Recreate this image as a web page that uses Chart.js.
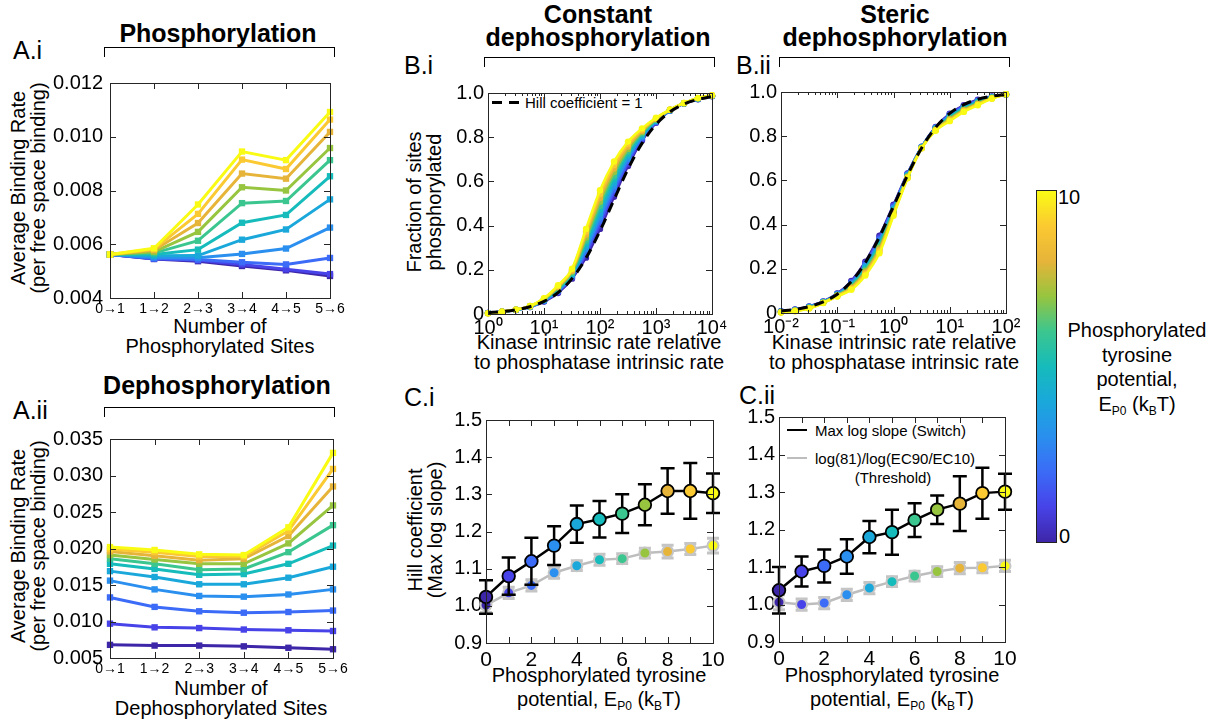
<!DOCTYPE html>
<html>
<head>
<meta charset="utf-8">
<script src="https://cdn.jsdelivr.net/npm/chart.js@4.4.1/dist/chart.umd.min.js"></script>
<style>
  body { margin: 0; width: 1221px; height: 723px; position: relative; overflow: hidden; background: #fff;
         font-family: "Liberation Sans", Arial, sans-serif; color: #000; }
  canvas { position: absolute; }
  .t { position: absolute; white-space: nowrap; font-size: 20px; line-height: 20px; text-align: center; transform: translate(-50%, -50%); }
  .l { text-align: left; transform: translate(0, -50%); }
  .rot { transform: translate(-50%, -50%) rotate(-90deg); }
  .head { font-weight: bold; font-size: 25px; line-height: 23px; }
  .panel { font-size: 25px; line-height: 25px; }
  .leg { font-size: 15px; line-height: 15px; }
  .sub { font-size: 12px; vertical-align: -4px; }
  .brk { position: absolute; height: 10px; border: 1.5px solid #000; border-bottom: none; box-sizing: border-box; }
  .cbar { position: absolute; left: 1036px; top: 190px; width: 21px; height: 353px; box-sizing: border-box; border: 1px solid #222; }
</style>
</head>
<body>

<!-- panel headers -->
<div class="t head" style="left:218px;top:33px">Phosphorylation</div>
<div class="brk" style="left:104px;top:47px;width:231px"></div>
<div class="t l panel" style="left:13px;top:50px">A.i</div>

<div class="t head" style="left:217px;top:385px">Dephosphorylation</div>
<div class="brk" style="left:104px;top:407px;width:231px"></div>
<div class="t l panel" style="left:13px;top:410px">A.ii</div>

<div class="t head" style="left:598px;top:26px">Constant<br>dephosphorylation</div>
<div class="brk" style="left:484px;top:57px;width:231px"></div>
<div class="t l panel" style="left:404px;top:65px">B.i</div>

<div class="t head" style="left:895px;top:26px">Steric<br>dephosphorylation</div>
<div class="brk" style="left:779px;top:57px;width:231px"></div>
<div class="t l panel" style="left:736px;top:65px">B.ii</div>

<div class="t l panel" style="left:404px;top:397px">C.i</div>
<div class="t l panel" style="left:739px;top:395px">C.ii</div>

<!-- axis titles -->
<div class="t rot" style="left:28px;top:188px">Average Binding Rate<br>(per free space binding)</div>
<div class="t" style="left:220px;top:336px;line-height:20px">Number of<br>Phosphorylated Sites</div>
<div class="t rot" style="left:28px;top:546px">Average Binding Rate<br>(per free space binding)</div>
<div class="t" style="left:221px;top:698px;line-height:20px">Number of<br>Dephosphorylated Sites</div>

<div class="t rot" style="left:424px;top:202px">Fraction of sites<br>phosphorylated</div>
<div class="t" style="left:599px;top:352px">Kinase intrinsic rate relative<br>to phosphatase intrinsic rate</div>
<div class="t" style="left:894px;top:352px">Kinase intrinsic rate relative<br>to phosphatase intrinsic rate</div>

<div class="t rot" style="left:425px;top:530px">Hill coefficient<br>(Max log slope)</div>
<div class="t" style="left:599px;top:690px;line-height:24px">Phosphorylated tyrosine<br>potential, E<span class="sub">P0</span> (k<span class="sub">B</span>T)</div>
<div class="t" style="left:892px;top:690px;line-height:24px">Phosphorylated tyrosine<br>potential, E<span class="sub">P0</span> (k<span class="sub">B</span>T)</div>

<!-- legends -->
<div style="position:absolute;left:492px;top:101px;width:29px;height:3px;background:repeating-linear-gradient(to right,#000 0 10px,transparent 10px 17px)"></div>
<div class="t l leg" style="left:525px;top:102px">Hill coefficient = 1</div>

<div style="position:absolute;left:787px;top:429px;width:20px;height:2px;background:#000"></div>
<div class="t l leg" style="left:815px;top:430px">Max log slope (Switch)</div>
<div style="position:absolute;left:787px;top:457px;width:20px;height:2px;background:#bdbdbd"></div>
<div class="t l leg" style="left:815px;top:458px">log(81)/log(EC90/EC10)</div>
<div class="t leg" style="left:893px;top:477px">(Threshold)</div>

<!-- colour bar -->
<div class="cbar" id="cbar"></div>
<div class="t l" style="left:1058px;top:197px">10</div>
<div class="t l" style="left:1059px;top:536px">0</div>
<div class="t" style="left:1137px;top:370px;line-height:24.5px">Phosphorylated<br>tyrosine<br>potential,<br>E<span class="sub">P0</span> (k<span class="sub">B</span>T)</div>

<script>
// colours for E_P0 = 0..10 (parula)
const PARULA = ['#3e26a8', '#4743e8', '#3b6bf7', '#2a8fee', '#1aa8db', '#16bbbb',
                '#3cc68f', '#97c53f', '#e6b439', '#fbc931', '#f9fb15'];
const POTENTIAL = [0, 1, 2, 3, 4, 5, 6, 7, 8, 9, 10];

// A.i / A.ii : average binding rate, one row per E_P0 (0..10)
const SITE_STEPS = ['0→1', '1→2', '2→3', '3→4', '4→5', '5→6'];
const phosBindingRate = [
    [0.00562, 0.00545, 0.00537, 0.00519, 0.00503, 0.00482],
    [0.00562, 0.00546, 0.00540, 0.00525, 0.00507, 0.00489],
    [0.00562, 0.00547, 0.00543, 0.00533, 0.00525, 0.00549],
    [0.00562, 0.00551, 0.00550, 0.00564, 0.00584, 0.00662],
    [0.00562, 0.00557, 0.00558, 0.00617, 0.00655, 0.00767],
    [0.00562, 0.00562, 0.00580, 0.00680, 0.00709, 0.00853],
    [0.00562, 0.00567, 0.00613, 0.00753, 0.00761, 0.00913],
    [0.00562, 0.00572, 0.00646, 0.00812, 0.00800, 0.00958],
    [0.00562, 0.00578, 0.00679, 0.00863, 0.00844, 0.01018],
    [0.00562, 0.00582, 0.00713, 0.00915, 0.00880, 0.01064],
    [0.00562, 0.00585, 0.00748, 0.00945, 0.00913, 0.01092]
];
const dephosBindingRate = [
    [0.0068, 0.0067, 0.0067, 0.0066, 0.0064, 0.0062],
    [0.0097, 0.0092, 0.0091, 0.0089, 0.0088, 0.0087],
    [0.0133, 0.0120, 0.0114, 0.0112, 0.0113, 0.0115],
    [0.0156, 0.0144, 0.0135, 0.0134, 0.0137, 0.0144],
    [0.0169, 0.0161, 0.0151, 0.0151, 0.0160, 0.0175],
    [0.0179, 0.0172, 0.0164, 0.0165, 0.0179, 0.0204],
    [0.0186, 0.0179, 0.0171, 0.0172, 0.0195, 0.0232],
    [0.0191, 0.0185, 0.0179, 0.0179, 0.0207, 0.0259],
    [0.0196, 0.0190, 0.0184, 0.0186, 0.0217, 0.0285],
    [0.0199, 0.0195, 0.0189, 0.0189, 0.0224, 0.0309],
    [0.0202, 0.0198, 0.0192, 0.0191, 0.0229, 0.0331]
];

// B.i : constant dephosphorylation
const kinaseRatioConst = [1, 1.778, 3.162, 5.623, 10, 17.78, 31.62, 56.23, 100,
                          177.8, 316.2, 562.3, 1000, 1778, 3162, 5623, 10000];
const hillOneConst = [0.006, 0.011, 0.019, 0.033, 0.057, 0.097, 0.16, 0.253, 0.376,
                      0.517, 0.656, 0.772, 0.858, 0.915, 0.95, 0.971, 0.984];
const fracPhosConst = [
    [0.005, 0.01, 0.018, 0.032, 0.056, 0.095, 0.16, 0.255, 0.385, 0.53, 0.67, 0.785, 0.865, 0.92, 0.952, 0.972, 0.985],
    [0.005, 0.01, 0.018, 0.032, 0.058, 0.099, 0.165, 0.268, 0.403, 0.546, 0.681, 0.791, 0.867, 0.921, 0.952, 0.973, 0.986],
    [0.005, 0.01, 0.018, 0.033, 0.059, 0.102, 0.169, 0.281, 0.42, 0.562, 0.692, 0.796, 0.87, 0.921, 0.953, 0.973, 0.986],
    [0.004, 0.01, 0.019, 0.033, 0.061, 0.106, 0.174, 0.294, 0.438, 0.578, 0.703, 0.802, 0.872, 0.922, 0.953, 0.974, 0.987],
    [0.004, 0.01, 0.019, 0.034, 0.062, 0.109, 0.178, 0.307, 0.455, 0.594, 0.714, 0.807, 0.874, 0.922, 0.953, 0.974, 0.987],
    [0.004, 0.01, 0.019, 0.034, 0.064, 0.113, 0.183, 0.32, 0.473, 0.61, 0.725, 0.813, 0.877, 0.923, 0.954, 0.975, 0.988],
    [0.004, 0.01, 0.019, 0.034, 0.066, 0.116, 0.187, 0.333, 0.49, 0.626, 0.736, 0.818, 0.879, 0.923, 0.954, 0.976, 0.988],
    [0.004, 0.01, 0.019, 0.035, 0.067, 0.12, 0.192, 0.346, 0.508, 0.642, 0.747, 0.824, 0.881, 0.924, 0.954, 0.976, 0.989],
    [0.003, 0.01, 0.02, 0.035, 0.069, 0.123, 0.196, 0.359, 0.525, 0.658, 0.758, 0.829, 0.883, 0.924, 0.954, 0.977, 0.989],
    [0.003, 0.01, 0.02, 0.036, 0.07, 0.127, 0.201, 0.372, 0.543, 0.674, 0.769, 0.835, 0.886, 0.925, 0.955, 0.977, 0.99],
    [0.003, 0.01, 0.02, 0.036, 0.072, 0.13, 0.205, 0.385, 0.56, 0.69, 0.78, 0.84, 0.888, 0.925, 0.955, 0.978, 0.99]
];

// B.ii : steric dephosphorylation
const kinaseRatioSteric = [0.01, 0.01778, 0.03162, 0.05623, 0.1, 0.1778, 0.3162, 0.5623, 1,
                           1.778, 3.162, 5.623, 10, 17.78, 31.62, 56.23, 100];
const hillOneSteric = [0.009, 0.016, 0.029, 0.05, 0.085, 0.142, 0.228, 0.344, 0.483,
                       0.624, 0.747, 0.84, 0.903, 0.943, 0.967, 0.981, 0.989];
const fracPhosSteric = [
    [0.008, 0.016, 0.03, 0.052, 0.088, 0.145, 0.232, 0.35, 0.49, 0.632, 0.752, 0.842, 0.902, 0.94, 0.965, 0.98, 0.989],
    [0.007, 0.015, 0.029, 0.051, 0.087, 0.141, 0.226, 0.342, 0.485, 0.63, 0.751, 0.84, 0.899, 0.937, 0.963, 0.979, 0.989],
    [0.007, 0.014, 0.028, 0.051, 0.085, 0.137, 0.22, 0.334, 0.48, 0.628, 0.751, 0.839, 0.895, 0.934, 0.96, 0.978, 0.989],
    [0.006, 0.014, 0.027, 0.05, 0.084, 0.133, 0.213, 0.326, 0.475, 0.625, 0.75, 0.837, 0.892, 0.931, 0.958, 0.977, 0.989],
    [0.006, 0.013, 0.026, 0.049, 0.083, 0.129, 0.207, 0.318, 0.47, 0.623, 0.749, 0.835, 0.888, 0.928, 0.955, 0.976, 0.989],
    [0.005, 0.012, 0.025, 0.049, 0.082, 0.125, 0.201, 0.31, 0.465, 0.621, 0.749, 0.834, 0.885, 0.925, 0.953, 0.975, 0.99],
    [0.004, 0.011, 0.024, 0.048, 0.08, 0.121, 0.195, 0.302, 0.46, 0.619, 0.748, 0.832, 0.882, 0.922, 0.95, 0.974, 0.99],
    [0.004, 0.01, 0.023, 0.047, 0.079, 0.117, 0.189, 0.294, 0.455, 0.617, 0.747, 0.83, 0.878, 0.919, 0.948, 0.973, 0.99],
    [0.003, 0.01, 0.022, 0.046, 0.078, 0.113, 0.182, 0.286, 0.45, 0.614, 0.746, 0.828, 0.875, 0.916, 0.945, 0.972, 0.99],
    [0.003, 0.009, 0.021, 0.046, 0.076, 0.109, 0.176, 0.278, 0.445, 0.612, 0.746, 0.827, 0.871, 0.913, 0.943, 0.971, 0.99],
    [0.002, 0.008, 0.02, 0.045, 0.075, 0.105, 0.17, 0.27, 0.44, 0.61, 0.745, 0.825, 0.868, 0.91, 0.94, 0.97, 0.99]
];

// C.i / C.ii : Hill coefficients with error bars
const switchHillConst = [1.024, 1.080, 1.120, 1.162, 1.220, 1.233, 1.248, 1.272, 1.309, 1.309, 1.303];
const switchErrConst = [0.045, 0.050, 0.063, 0.052, 0.050, 0.049, 0.052, 0.055, 0.061, 0.075, 0.053];
const thresholdHillConst = [1.002, 1.035, 1.055, 1.089, 1.108, 1.124, 1.127, 1.142, 1.146, 1.153, 1.162];
const thresholdErrConst = [0.020, 0.015, 0.015, 0.015, 0.013, 0.015, 0.013, 0.013, 0.017, 0.015, 0.020];
const switchHillSteric = [1.038, 1.088, 1.103, 1.128, 1.180, 1.193, 1.225, 1.253, 1.269, 1.297, 1.301];
const switchErrSteric = [0.062, 0.040, 0.044, 0.046, 0.043, 0.060, 0.045, 0.038, 0.073, 0.068, 0.048];
const thresholdHillSteric = [1.006, 1.000, 1.004, 1.026, 1.044, 1.061, 1.076, 1.088, 1.097, 1.098, 1.103];
const thresholdErrSteric = [0.020, 0.015, 0.015, 0.015, 0.015, 0.013, 0.013, 0.013, 0.015, 0.013, 0.015];

Chart.defaults.font.family = '"Liberation Sans", Arial, sans-serif';
Chart.defaults.color = '#000';

document.getElementById('cbar').style.background =
    'linear-gradient(to top, ' + PARULA.join(', ') + ')';

const SUP = { '-': '⁻', '0': '⁰', '1': '¹', '2': '²', '3': '³', '4': '⁴' };

function isPow10(v) {
    const l = Math.log10(v);
    return Math.abs(l - Math.round(l)) < 1e-9;
}

// tick kind on a log axis: 2 = decade, 1 = minor (2..9), 0 = none
function logKind(v) {
    if (isPow10(v)) return 2;
    const m = v / Math.pow(10, Math.floor(Math.log10(v) + 1e-9));
    return Math.abs(m - Math.round(m)) < 1e-6 ? 1 : 0;
}

function logLabel(v) {
    if (!isPow10(v)) return '';
    const e = String(Math.round(Math.log10(v)));
    return '10' + e.split('').map(c => SUP[c]).join('');
}

// MATLAB style box with inward ticks on all four sides
function frame(kindX) {
    return {
        id: 'frame',
        afterDraw(chart) {
            const { ctx, chartArea: a, scales } = chart;
            ctx.save();
            ctx.strokeStyle = '#262626';
            ctx.lineWidth = 1;
            ctx.beginPath();
            scales.x.ticks.forEach((t, i) => {
                const k = kindX ? kindX(t.value) : 2;
                if (!k) return;
                const len = k === 2 ? 6 : 3;
                const px = Math.round(scales.x.getPixelForTick(i)) + 0.5;
                ctx.moveTo(px, a.bottom); ctx.lineTo(px, a.bottom - len);
                ctx.moveTo(px, a.top); ctx.lineTo(px, a.top + len);
            });
            scales.y.ticks.forEach((t, i) => {
                const py = Math.round(scales.y.getPixelForTick(i)) + 0.5;
                ctx.moveTo(a.left, py); ctx.lineTo(a.left + 6, py);
                ctx.moveTo(a.right, py); ctx.lineTo(a.right - 6, py);
            });
            ctx.stroke();
            ctx.strokeRect(Math.round(a.left) + 0.5, Math.round(a.top) + 0.5,
                           Math.round(a.width), Math.round(a.height));
            ctx.restore();
        }
    };
}

const errorBars = {
    id: 'errorBars',
    beforeDatasetDraw(chart, args) {
        const ds = chart.data.datasets[args.index];
        if (!ds.errBar) return;
        const { ctx, scales: { y } } = chart;
        const eb = ds.errBar;
        ctx.save();
        ctx.strokeStyle = eb.color;
        ctx.lineWidth = eb.width;
        ctx.beginPath();
        args.meta.data.forEach((pt, i) => {
            const v = ds.data[i].y, e = eb.values[i];
            const y1 = y.getPixelForValue(v - e), y2 = y.getPixelForValue(v + e);
            ctx.moveTo(pt.x, y1); ctx.lineTo(pt.x, y2);
            ctx.moveTo(pt.x - eb.cap, y1); ctx.lineTo(pt.x + eb.cap, y1);
            ctx.moveTo(pt.x - eb.cap, y2); ctx.lineTo(pt.x + eb.cap, y2);
        });
        ctx.stroke();
        ctx.restore();
    }
};

// put a chart so that its plot box lands on box {l, t, w, h}
function place(box, config) {
    const Y_W = 75, X_H = 40, PAD_T = 14, PAD_R = 24;
    const cv = document.createElement('canvas');
    cv.width = Y_W + box.w + PAD_R;
    cv.height = PAD_T + box.h + X_H;
    cv.style.left = (box.l - Y_W) + 'px';
    cv.style.top = (box.t - PAD_T) + 'px';
    document.body.appendChild(cv);
    const o = config.options;
    o.animation = false;
    o.responsive = false;
    o.events = [];
    o.layout = { padding: { top: PAD_T, right: PAD_R, left: 0, bottom: 0 } };
    o.plugins = { legend: { display: false }, tooltip: { enabled: false } };
    o.scales.x.afterFit = s => { s.height = X_H; };
    o.scales.y.afterFit = s => { s.width = Y_W; };
    for (const k of ['x', 'y']) {
        o.scales[k].grid = { display: false, drawTicks: false };
        o.scales[k].border = { display: false };
    }
    return new Chart(cv, config);
}

function rateChart(box, rows, yMin, yMax, step) {
    place(box, {
        type: 'line',
        data: {
            labels: SITE_STEPS,
            datasets: rows.map((row, k) => ({
                data: row,
                borderColor: PARULA[k],
                backgroundColor: PARULA[k],
                borderWidth: 3,
                pointStyle: 'rect',
                pointRadius: 4.5,
                pointBorderWidth: 0,
                order: 10 - k,
                clip: false
            }))
        },
        options: {
            scales: {
                x: { type: 'category', offset: false,
                     ticks: { font: { size: 14 }, padding: 3, maxRotation: 0, autoSkip: false } },
                y: { min: yMin, max: yMax,
                     ticks: { stepSize: step, font: { size: 20 }, padding: 7,
                              callback: v => v.toFixed(3) } }
            }
        },
        plugins: [frame(null)]
    });
}

function fractionChart(box, xs, rows, dashed, xMin, xMax) {
    const sets = rows.map((row, k) => ({
        data: xs.map((x, i) => ({ x, y: row[i] })),
        borderColor: PARULA[k],
        backgroundColor: PARULA[k],
        borderWidth: 2.5,
        pointRadius: 3.2,
        pointBorderWidth: 0,
        cubicInterpolationMode: 'monotone',
        order: 11 - k,
        clip: false
    }));
    sets.push({
        data: xs.map((x, i) => ({ x, y: dashed[i] })),
        borderColor: '#000',
        borderWidth: 3,
        borderDash: [10, 7],
        pointRadius: 0,
        cubicInterpolationMode: 'monotone',
        order: 0
    });
    place(box, {
        type: 'line',
        data: { datasets: sets },
        options: {
            scales: {
                x: { type: 'logarithmic', min: xMin, max: xMax,
                     ticks: { autoSkip: false, maxRotation: 0, font: { size: 20 }, padding: 2,
                              callback: v => logLabel(v) } },
                y: { min: 0, max: 1,
                     ticks: { stepSize: 0.2, font: { size: 20 }, padding: 4,
                              callback: v => (v === 0 ? '0' : v.toFixed(1)) } }
            }
        },
        plugins: [frame(logKind)]
    });
}

function hillChart(box, sw, swErr, th, thErr) {
    place(box, {
        type: 'line',
        data: {
            datasets: [{
                data: POTENTIAL.map((x, i) => ({ x, y: sw[i] })),
                borderColor: '#000',
                borderWidth: 2.5,
                pointRadius: 6.3,
                pointBackgroundColor: PARULA,
                pointBorderColor: '#000',
                pointBorderWidth: 1.8,
                errBar: { values: swErr, color: '#000', width: 2.5, cap: 7 },
                order: 0,
                clip: false
            }, {
                data: POTENTIAL.map((x, i) => ({ x, y: th[i] })),
                borderColor: '#bdbdbd',
                borderWidth: 2.5,
                pointRadius: 5.5,
                pointBackgroundColor: PARULA,
                pointBorderColor: '#c6c6c6',
                pointBorderWidth: 2,
                errBar: { values: thErr, color: '#c4c4c4', width: 3, cap: 6 },
                order: 1,
                clip: false
            }]
        },
        options: {
            scales: {
                x: { type: 'linear', min: 0, max: 10,
                     ticks: { stepSize: 1, autoSkip: false, maxRotation: 0, font: { size: 21 }, padding: 5,
                              callback: v => (v % 2 === 0 ? String(v) : '') } },
                y: { min: 0.9, max: 1.5,
                     ticks: { stepSize: 0.1, font: { size: 20 }, padding: 4,
                              callback: v => v.toFixed(1) } }
            }
        },
        plugins: [frame(null), errorBars]
    });
}

rateChart({ l: 110, t: 78, w: 220, h: 220 }, phosBindingRate, 0.004, 0.012, 0.002);
rateChart({ l: 110, t: 434, w: 223, h: 224 }, dephosBindingRate, 0.005, 0.035, 0.005);
fractionChart({ l: 488, t: 91, w: 224, h: 223 }, kinaseRatioConst, fracPhosConst, hillOneConst, 1, 10000);
fractionChart({ l: 781, t: 90, w: 225, h: 223 }, kinaseRatioSteric, fracPhosSteric, hillOneSteric, 0.01, 100);
hillChart({ l: 486, t: 418, w: 227, h: 225 }, switchHillConst, switchErrConst, thresholdHillConst, thresholdErrConst);
hillChart({ l: 779, t: 415, w: 226, h: 227 }, switchHillSteric, switchErrSteric, thresholdHillSteric, thresholdErrSteric);
</script>
</body>
</html>
